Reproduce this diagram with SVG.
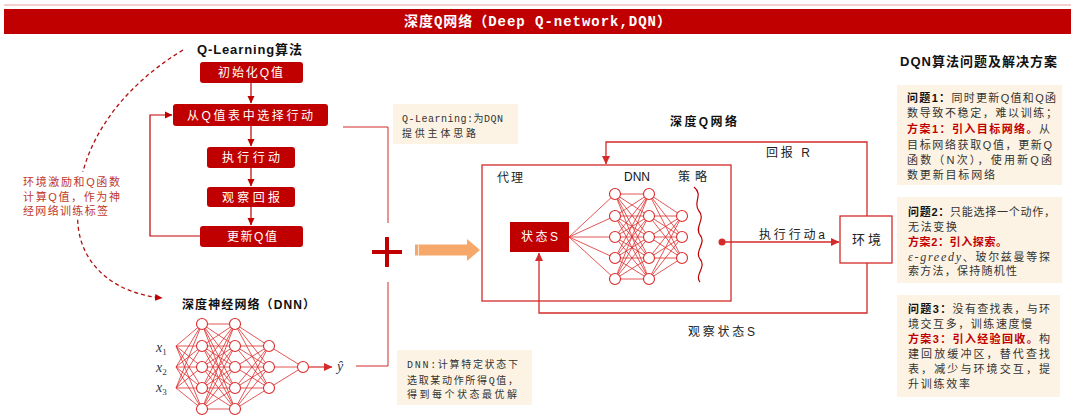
<svg xmlns="http://www.w3.org/2000/svg" width="1080" height="416" viewBox="0 0 1080 416">
<defs>
<style>
.cjk{font-family:"Liberation Sans","Noto Sans CJK SC",sans-serif}
.mono{font-family:"Liberation Mono","Noto Sans CJK SC",monospace}
.bt{font-weight:bold;fill:#111}
.wt{fill:#fff;font-size:12px}
.qbox{fill:#c00000;stroke:none}
.qarr{stroke:#c00000;stroke-width:1.2;fill:none}
.dq{stroke:#d42a2a;stroke-width:1.3;fill:none}
.net{stroke:#dd2b2b;stroke-width:0.8;fill:none}
.node{fill:#fff;stroke:#dd2b2b;stroke-width:1.1}
.note{fill:#fdf3e4}
.tx{fill:#333;font-size:11px}
.rb{fill:#c00000;font-weight:bold}
.kb{fill:#111;font-weight:bold}
.lbl{fill:#222;font-size:12px}
</style>
<marker id="aq" markerWidth="8" markerHeight="8" refX="7" refY="4" orient="auto" markerUnits="userSpaceOnUse"><path d="M0,0.5 L7.5,4 L0,7.5 z" fill="#c00000"/></marker>
<marker id="ad" markerWidth="9" markerHeight="9" refX="8" refY="4.5" orient="auto" markerUnits="userSpaceOnUse"><path d="M0,0.5 L8.5,4.5 L0,8.5 z" fill="#d42a2a"/></marker>
</defs>
<rect width="1080" height="416" fill="#fff"/>

<g id="title">
<line x1="4" y1="5" x2="1071" y2="5" stroke="#e8a0a0" stroke-width="1"/>
<rect x="4" y="9" width="1067" height="25" fill="#c00000"/>
<text x="404" y="26" class="mono" font-size="14" font-weight="bold" fill="#fff" textLength="267" lengthAdjust="spacing">深度Q网络（Deep Q-network,DQN）</text>
</g>

<g id="connectors">
<path class="qarr" d="M251 83 V103" marker-end="url(#aq)"/>
<path class="qarr" d="M251 126 V146" marker-end="url(#aq)"/>
<path class="qarr" d="M251 168 V186" marker-end="url(#aq)"/>
<path class="qarr" d="M251 207 V225" marker-end="url(#aq)"/>
<path class="qarr" d="M200 236 H150 V115 H172" marker-end="url(#aq)"/>
<path d="M183 50 C120 88 72 150 78 225 C82 268 118 294 162 298" fill="none" stroke="#b01010" stroke-width="1.3" stroke-dasharray="4 3" marker-end="url(#aq)"/>
<path d="M343 127 H388 V223 M388 282 V366 H356" fill="none" stroke="#d42a2a" stroke-width="1"/>
<path class="dq" d="M867 216 V142 H606 V164" marker-end="url(#ad)"/>
<path class="dq" d="M867 263 V313 H539 V253" marker-end="url(#ad)"/>
<path class="dq" d="M722 242 H839" marker-end="url(#ad)"/>
</g>

<g id="qlearning-title"><text x="197" y="54" class="cjk bt" font-size="13" textLength="105" lengthAdjust="spacing">Q-Learning算法</text></g>
<g id="q-init"><rect class="qbox" x="200" y="62" width="103" height="21" rx="3"/><text x="218" y="77" class="cjk wt" textLength="65" lengthAdjust="spacing">初始化Q值</text></g>
<g id="q-select"><rect class="qbox" x="173" y="104" width="155" height="22" rx="3"/><text x="187" y="119.5" class="cjk wt" textLength="126" lengthAdjust="spacing">从Q值表中选择行动</text></g>
<g id="q-exec"><rect class="qbox" x="207" y="147" width="88" height="21" rx="3"/><text x="222" y="162" class="cjk wt" textLength="58" lengthAdjust="spacing">执行行动</text></g>
<g id="q-observe"><rect class="qbox" x="207" y="187" width="88" height="20" rx="3"/><text x="222" y="201.5" class="cjk wt" textLength="58" lengthAdjust="spacing">观察回报</text></g>
<g id="q-update"><rect class="qbox" x="200" y="226" width="103" height="21" rx="3"/><text x="227" y="241" class="cjk wt" textLength="50" lengthAdjust="spacing">更新Q值</text></g>

<g id="left-note">
<rect x="20" y="172" width="104" height="46" fill="#fff"/>
<text class="cjk" font-size="11" fill="#c0392b">
<tspan x="23" y="186" textLength="97" lengthAdjust="spacing">环境激励和Q函数</tspan>
<tspan x="23" y="201" textLength="97" lengthAdjust="spacing">计算Q值，作为神</tspan>
<tspan x="23" y="215" textLength="85" lengthAdjust="spacing">经网络训练标签</tspan>
</text>
</g>

<g id="dnn-small">
<text x="182" y="309" class="cjk bt" font-size="12" textLength="133" lengthAdjust="spacing">深度神经网络（DNN）</text>
<path class="net" d="M176 346L202 324M176 346L202 346M176 346L202 367M176 346L202 388M176 346L202 409M176 367L202 324M176 367L202 346M176 367L202 367M176 367L202 388M176 367L202 409M176 388L202 324M176 388L202 346M176 388L202 367M176 388L202 388M176 388L202 409"/>
<path class="net" d="M202 324L235 324M202 324L235 346M202 324L235 367M202 324L235 388M202 324L235 409M202 346L235 324M202 346L235 346M202 346L235 367M202 346L235 388M202 346L235 409M202 367L235 324M202 367L235 346M202 367L235 367M202 367L235 388M202 367L235 409M202 388L235 324M202 388L235 346M202 388L235 367M202 388L235 388M202 388L235 409M202 409L235 324M202 409L235 346M202 409L235 367M202 409L235 388M202 409L235 409"/>
<path class="net" d="M235 324L269 346M235 324L269 367M235 324L269 388M235 346L269 346M235 346L269 367M235 346L269 388M235 367L269 346M235 367L269 367M235 367L269 388M235 388L269 346M235 388L269 367M235 388L269 388M235 409L269 346M235 409L269 367M235 409L269 388"/>
<path class="net" d="M269 346L303 367M269 367L303 367M269 388L303 367"/>
<path d="M308.5 367 H332" stroke="#dd2b2b" stroke-width="1.2" marker-end="url(#ad)"/>
<g class="node">
<circle cx="202" cy="324" r="5.5"/><circle cx="202" cy="346" r="5.5"/><circle cx="202" cy="367" r="5.5"/><circle cx="202" cy="388" r="5.5"/><circle cx="202" cy="409" r="5.5"/>
<circle cx="235" cy="324" r="5.5"/><circle cx="235" cy="346" r="5.5"/><circle cx="235" cy="367" r="5.5"/><circle cx="235" cy="388" r="5.5"/><circle cx="235" cy="409" r="5.5"/>
<circle cx="269" cy="346" r="5.5"/><circle cx="269" cy="367" r="5.5"/><circle cx="269" cy="388" r="5.5"/>
<circle cx="303" cy="367" r="5.5"/>
</g>
<g font-family="'Liberation Serif',serif" font-style="italic" fill="#2b3650" font-size="14">
<text x="156" y="352">x<tspan font-size="9" font-style="normal" dy="3">1</tspan></text>
<text x="156" y="372">x<tspan font-size="9" font-style="normal" dy="3">2</tspan></text>
<text x="156" y="392">x<tspan font-size="9" font-style="normal" dy="3">3</tspan></text>
<text x="337" y="371">ŷ</text>
</g>
</g>

<g id="plus">
<path d="M372 252 H402 M387 237 V267" stroke="#c00000" stroke-width="4" fill="none"/>
</g>
<g id="big-arrow">
<polygon points="415,244.5 467,244.5 467,239 480,250 467,261 467,255.5 415,255.5" fill="#f5a86a"/>
<line x1="418.5" y1="244.5" x2="418.5" y2="255.5" stroke="#fff" stroke-width="1" opacity="0.7"/>
</g>

<g id="note-qlearning">
<rect class="note" x="393" y="104" width="125" height="40"/>
<text class="mono" font-size="10" fill="#333">
<tspan x="402" y="122" textLength="101" lengthAdjust="spacing">Q-Learning:为DQN</tspan>
<tspan x="402" y="137" textLength="74" lengthAdjust="spacing">提供主体思路</tspan>
</text>
</g>

<g id="note-dnn">
<rect class="note" x="397" y="350" width="135" height="55"/>
<text class="mono" font-size="10" fill="#333">
<tspan x="407" y="368" textLength="111" lengthAdjust="spacing">DNN:计算特定状态下</tspan>
<tspan x="407" y="384" textLength="111" lengthAdjust="spacing">选取某动作所得Q值，</tspan>
<tspan x="407" y="398" textLength="110" lengthAdjust="spacing">得到每个状态最优解</tspan>
</text>
</g>

<g id="dqn-title"><text x="670" y="126" class="cjk bt" font-size="12" textLength="67" lengthAdjust="spacing">深度Q网络</text></g>

<g id="agent">
<rect x="482" y="165" width="249" height="136" fill="none" stroke="#d42a2a" stroke-width="1.3"/>
<text x="497" y="182" class="cjk lbl" textLength="26" lengthAdjust="spacing">代理</text>
<text x="637" y="181" class="cjk" font-size="12" fill="#111" text-anchor="middle">DNN</text>
<text x="678" y="181" class="cjk lbl" textLength="29" lengthAdjust="spacing">策略</text>
</g>

<g id="state">
<rect x="510" y="222" width="59" height="30" fill="#c00000"/>
<text x="521" y="241" class="cjk" font-size="12" fill="#fff" textLength="37" lengthAdjust="spacing">状态S</text>
</g>

<g id="dqn-net">
<path class="net" d="M569 237L615 194M569 237L615 216M569 237L615 237M569 237L615 258M569 237L615 279"/>
<path class="net" d="M615 194L649 194M615 194L649 216M615 194L649 237M615 194L649 258M615 194L649 279M615 216L649 194M615 216L649 216M615 216L649 237M615 216L649 258M615 216L649 279M615 237L649 194M615 237L649 216M615 237L649 237M615 237L649 258M615 237L649 279M615 258L649 194M615 258L649 216M615 258L649 237M615 258L649 258M615 258L649 279M615 279L649 194M615 279L649 216M615 279L649 237M615 279L649 258M615 279L649 279"/>
<path class="net" d="M649 194L682 216M649 194L682 237M649 194L682 258M649 216L682 216M649 216L682 237M649 216L682 258M649 237L682 216M649 237L682 237M649 237L682 258M649 258L682 216M649 258L682 237M649 258L682 258M649 279L682 216M649 279L682 237M649 279L682 258"/>
<g class="node">
<circle cx="615" cy="194" r="5.5"/><circle cx="615" cy="216" r="5.5"/><circle cx="615" cy="237" r="5.5"/><circle cx="615" cy="258" r="5.5"/><circle cx="615" cy="279" r="5.5"/>
<circle cx="649" cy="194" r="5.5"/><circle cx="649" cy="216" r="5.5"/><circle cx="649" cy="237" r="5.5"/><circle cx="649" cy="258" r="5.5"/><circle cx="649" cy="279" r="5.5"/>
<circle cx="682" cy="216" r="5.5"/><circle cx="682" cy="237" r="5.5"/><circle cx="682" cy="258" r="5.5"/>
</g>
<path d="M694 187 C704 195 692 203 699 211 C706 219 694 227 700 235 C707 243 694 251 700 259 C707 267 694 275 700 282" fill="none" stroke="#c00000" stroke-width="1.2"/>
<circle cx="722" cy="242" r="3.5" fill="#d42a2a"/>
</g>

<g id="environment">
<rect x="840" y="216" width="52" height="47" fill="#fff" stroke="#d42a2a" stroke-width="1.3"/>
<text x="852" y="244" class="cjk" font-size="13" fill="#222" textLength="29" lengthAdjust="spacing">环境</text>
</g>

<g id="dqn-labels">
<text x="766" y="157" class="cjk lbl" textLength="44" lengthAdjust="spacing">回报 R</text>
<text x="759" y="239" class="cjk lbl" textLength="66" lengthAdjust="spacing">执行行动a</text>
<text x="688" y="336" class="cjk lbl" textLength="67" lengthAdjust="spacing">观察状态S</text>
</g>

<g id="panel-title"><text x="900" y="66" class="cjk bt" font-size="13" textLength="157" lengthAdjust="spacing">DQN算法问题及解决方案</text></g>

<g id="problem1">
<rect class="note" x="897" y="85" width="165" height="100"/>
<text class="cjk tx" x="907" y="102" textLength="149" lengthAdjust="spacing"><tspan class="kb">问题1：</tspan>同时更新Q值和Q函</text>
<text class="cjk tx" x="907" y="117" textLength="150" lengthAdjust="spacing">数导致不稳定，难以训练；</text>
<text class="cjk tx" x="907" y="133" textLength="143" lengthAdjust="spacing"><tspan class="rb">方案1：引入目标网络。</tspan>从</text>
<text class="cjk tx" x="907" y="149" textLength="145" lengthAdjust="spacing">目标网络获取Q值，更新Q</text>
<text class="cjk tx" x="907" y="164" textLength="145" lengthAdjust="spacing">函数（N次），使用新Q函</text>
<text class="cjk tx" x="907" y="179" textLength="88" lengthAdjust="spacing">数更新目标网络</text>
</g>

<g id="problem2">
<rect class="note" x="897" y="197" width="165" height="86"/>
<text class="cjk tx" x="908" y="216" textLength="147" lengthAdjust="spacing"><tspan class="kb">问题2：</tspan>只能选择一个动作，</text>
<text class="cjk tx" x="908" y="230.5" textLength="49" lengthAdjust="spacing">无法变换</text>
<text class="cjk tx" x="908" y="245.5" textLength="99" lengthAdjust="spacing"><tspan class="rb">方案2：引入探索。</tspan></text>
<text class="cjk tx" x="908" y="260.5" textLength="142" lengthAdjust="spacing"><tspan font-family="'Liberation Serif',serif" font-style="italic" font-size="12">ε-greedy</tspan>、玻尔兹曼等探</text>
<text class="cjk tx" x="908" y="275" textLength="109" lengthAdjust="spacing">索方法，保持随机性</text>
</g>

<g id="problem3">
<rect class="note" x="897" y="295" width="163" height="102"/>
<text class="cjk tx" x="908" y="313" textLength="142" lengthAdjust="spacing"><tspan class="kb">问题3：</tspan>没有查找表，与环</text>
<text class="cjk tx" x="908" y="328" textLength="124" lengthAdjust="spacing">境交互多，训练速度慢</text>
<text class="cjk tx" x="908" y="343" textLength="142" lengthAdjust="spacing"><tspan class="rb">方案3：引入经验回收。</tspan>构</text>
<text class="cjk tx" x="908" y="358" textLength="142" lengthAdjust="spacing">建回放缓冲区，替代查找</text>
<text class="cjk tx" x="908" y="373" textLength="142" lengthAdjust="spacing">表，减少与环境交互，提</text>
<text class="cjk tx" x="908" y="388" textLength="62" lengthAdjust="spacing">升训练效率</text>
</g>
</svg>
